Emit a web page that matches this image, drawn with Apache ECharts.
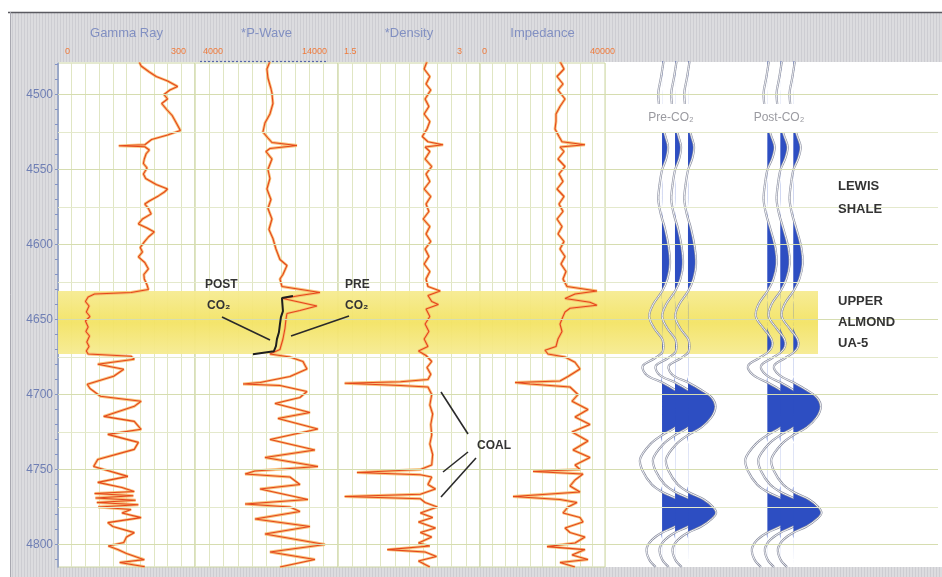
<!DOCTYPE html>
<html><head><meta charset="utf-8">
<script src="https://cdn.jsdelivr.net/npm/echarts@6/dist/echarts.min.js"></script>
<style>html,body{margin:0;padding:0;background:#fff}#c{width:942px;height:577px}</style>
</head><body><div id="c"></div>
<script>
// ---------------- data ----------------
const depthMin = 4479, depthMax = 4815;
const depthLabels = [4500, 4550, 4600, 4650, 4700, 4750, 4800];
const depthTicks = [4480,4490,4500,4510,4520,4530,4540,4550,4560,4570,4580,4590,4600,4610,4620,4630,4640,4650,4660,4670,4680,4690,4700,4710,4720,4730,4740,4750,4760,4770,4780,4790,4800,4810];
const gridDepths = [4500,4525,4550,4575,4600,4625,4650,4675,4700,4725,4750,4775,4800];
const trackNames = ['Gamma Ray', '*P-Wave', '*Density', 'Impedance'];
const trackMin = [0, 4000, 1.5, 0];
const trackMax = [300, 14000, 3, 40000];
const trackMinLabels = ['0', '4000', '1.5', '0'];
const trackMaxLabels = ['300', '14000', '3', '40000'];
const zoneTop = 4631, zoneBase = 4673;

// [depth (ft), value]
const gammaRay = [[4478.5,178],[4481,182],[4485,200],[4488,215],[4491,240],[4494.7,262],[4497,245],[4500,232],[4503,240],[4506,227],[4510,238],[4514,250],[4519.5,260],[4524,268],[4527,240],[4530,205],[4533.5,190],[4534.2,133],[4534.8,190],[4537,200],[4539.5,193],[4543,189],[4546,187],[4549,195],[4553,187],[4556,192],[4560,215],[4563,240],[4565,233],[4567.6,220],[4571,200],[4573,190],[4576,198],[4579.6,204],[4583,185],[4586.3,176],[4589,195],[4591.6,211],[4595,198],[4598.3,189],[4602,180],[4605,185],[4608.3,176],[4612,190],[4616.3,198],[4620,188],[4623,189],[4627,195],[4630,198],[4632,160],[4633,80],[4635,66],[4638,60],[4641,68],[4645,62],[4648,70],[4651,60],[4655,66],[4658,61],[4661,69],[4665,63],[4668,68],[4671,62],[4673,66],[4674.5,160],[4676.5,167],[4679.8,87],[4683.2,144],[4687.8,122],[4693.2,64],[4696,70],[4701.2,93],[4704.5,182],[4707.9,167],[4714.6,100],[4717.9,167],[4723.2,182],[4726.6,109],[4731.9,176],[4736.6,167],[4743.3,87],[4748,78],[4754.6,153],[4758.6,87],[4762,140],[4764.7,167],[4766,80],[4767.5,165],[4769,82],[4770.5,170],[4772,85],[4773.5,176],[4775,88],[4776.7,160],[4779,140],[4782.1,182],[4785.4,109],[4788,120],[4792.1,167],[4795,150],[4798.7,144],[4801,110],[4803.4,131],[4806,150],[4810.1,189],[4812,135],[4814.8,190]];

const pWave = [[4478,9240],[4483,9030],[4489,9100],[4496,9310],[4499,9380],[4506,9450],[4513,9240],[4519,8890],[4525,8750],[4529,9100],[4532,9380],[4534,11130],[4536,9240],[4538,8960],[4543,9380],[4550,9100],[4556,9240],[4563,9030],[4570,9310],[4576,9100],[4583,9380],[4590,9170],[4596,9450],[4603,9660],[4610,9940],[4614,10430],[4620,10150],[4623,9940],[4628,10080],[4632,12740],[4634,11340],[4636,10150],[4641,12530],[4644,11340],[4646,10430],[4650,10360],[4656,10290],[4663,10150],[4670,9940],[4673,9240],[4675,10640],[4678,11550],[4683,11830],[4688,10640],[4692,8540],[4693,7360],[4694,9940],[4698,11830],[4702,11340],[4706,9590],[4712,12040],[4716,9800],[4723,12600],[4730,9240],[4737,12390],[4742,8890],[4748,12600],[4751,8190],[4753,7500],[4755,10640],[4760,11340],[4763,8540],[4770,11900],[4773,7500],[4775,10640],[4778,11340],[4783,8190],[4788,12040],[4793,8890],[4800,13090],[4805,9240],[4810,12390],[4815,9940]];

const pWavePost = [[4634.4,10850],[4635.7,10080],[4644.4,10150],[4648.4,10010],[4653.1,9940],[4658.5,9870],[4663.1,9730],[4667.8,9660],[4671.1,9520],[4673.1,8050]];

const density = [[4478,2.44],[4483,2.41],[4488,2.47],[4493,2.43],[4497,2.48],[4503,2.42],[4508,2.46],[4513,2.41],[4518,2.47],[4523,2.44],[4528,2.39],[4531.5,2.45],[4533.5,2.61],[4535,2.42],[4538,2.47],[4543,2.42],[4548,2.49],[4553,2.43],[4558,2.47],[4563,2.41],[4568,2.48],[4573,2.43],[4578,2.46],[4583,2.40],[4588,2.47],[4593,2.43],[4598,2.48],[4603,2.42],[4608,2.46],[4613,2.41],[4618,2.47],[4623,2.43],[4628,2.45],[4631,2.58],[4634,2.45],[4638,2.49],[4640,2.56],[4643,2.43],[4648,2.47],[4653,2.42],[4658,2.46],[4663,2.41],[4668,2.45],[4671,2.35],[4674,2.43],[4678,2.49],[4682,2.44],[4686.5,2.48],[4690,2.45],[4691.5,2.16],[4692.5,1.57],[4694,2.16],[4695,2.45],[4700,2.49],[4707,2.47],[4713,2.50],[4720,2.48],[4727,2.49],[4733,2.47],[4740,2.50],[4747,2.49],[4750,2.37],[4752,1.70],[4753.5,2.37],[4755,2.49],[4760,2.45],[4763,2.53],[4766.5,2.37],[4768,1.57],[4769.5,2.37],[4772,2.42],[4775,2.55],[4779,2.37],[4782,2.50],[4785,2.35],[4789,2.53],[4792,2.37],[4795,2.49],[4799,2.35],[4801,2.47],[4803.4,2.02],[4805,2.42],[4808,2.54],[4811,2.35],[4815,2.47]];

const impedance = [[4478,25600],[4483,26880],[4488,24640],[4493,26560],[4497,24960],[4503,27200],[4508,25600],[4513,24320],[4518,24320],[4523,24000],[4528,25280],[4531.5,26240],[4533.5,33600],[4535,25600],[4538,26880],[4543,24960],[4548,27200],[4553,25280],[4558,26560],[4563,24640],[4568,26880],[4573,25280],[4578,26560],[4583,24640],[4588,26240],[4593,24960],[4598,26880],[4603,25600],[4608,27200],[4613,25920],[4618,27520],[4623,26560],[4628,27840],[4631,37440],[4633,30400],[4636,27200],[4638.5,35200],[4640.5,37440],[4642.5,28800],[4645,27200],[4648,26560],[4653,25600],[4658,26240],[4663,24960],[4668,24320],[4670.5,20800],[4673,21760],[4675,27200],[4678.5,30400],[4683,32000],[4688,28160],[4691,25600],[4692,11200],[4693,16000],[4695,28800],[4700,31360],[4704.5,29440],[4710,34560],[4715,30400],[4720,35200],[4725,29440],[4731,34560],[4737,29760],[4742,35200],[4747,30400],[4750,32000],[4751.3,16960],[4753,32960],[4757,30400],[4761,28800],[4765,32000],[4768,10560],[4770,25600],[4772,31040],[4775,28160],[4779,26560],[4782,32000],[4785,32960],[4789,27200],[4792,28800],[4795,33600],[4799,30400],[4801.4,21440],[4803.4,33600],[4807,29440],[4810,34560],[4812,25600],[4815,30400]];

// synthetic seismic traces (amplitude in trace-spacing units)
const seisDepth = [4478,4489,4499,4510,4520,4528,4535,4543,4550,4560,4570,4580,4589,4602,4613,4623,4631,4640,4648,4656,4663,4668,4672,4676,4681,4687,4692,4697,4702,4708,4715,4722,4727,4733,4743,4751,4760,4765,4770,4775,4779,4783,4788,4792,4797,4803,4810,4815];
const preAmp  = [0.1,-0.1,-0.3,-0.2,0,0.25,0.45,0.3,0,-0.2,-0.3,-0.1,0.2,0.5,0.6,0.4,0,-0.7,-1.0,-0.6,0,0.1,0,-0.6,-1.5,-1.2,0,1.0,1.8,2.1,1.8,1.0,0,-0.9,-1.7,-1.5,-0.8,0,1.2,1.9,2.15,1.8,1.0,0,-0.8,-1.2,-1.0,-0.5];
const postAmp = [0.1,-0.1,-0.3,-0.2,0,0.3,0.55,0.35,0,-0.2,-0.3,-0.1,0.2,0.6,0.7,0.45,0,-0.7,-0.9,-0.3,0.3,0.35,0,-0.7,-1.5,-1.1,0,1.0,1.8,2.1,1.8,1.0,0,-0.9,-1.7,-1.5,-0.8,0,1.2,1.9,2.15,1.8,1.0,0,-0.8,-1.2,-1.0,-0.5];
const traceBase = [4.4, 5.4, 6.4, 12.5, 13.5, 14.5];
const traceSet  = [0, 0, 0, 1, 1, 1]; // 0 = pre-CO2, 1 = post-CO2

// ---------------- layout ----------------
const plotTop = 63, plotBottom = 567, plotLeft = 58, plotRight = 938;
const trackL = [58, 195, 338, 480];
const trackR = [195, 338, 480, 605];
const seisL = 605, seisR = 938;
const bandRight = 818;
const scaleLabelX = [[65, 186], [203, 327], [344, 462], [482, 615]];
const FONT = 'Liberation Sans, Arial, DejaVu Sans, sans-serif';

const chart = echarts.init(document.getElementById('c'), null, {renderer: 'canvas'});

// stripe pattern for the grey frame
const pat = document.createElement('canvas');
pat.width = 3; pat.height = 4;
const pctx = pat.getContext('2d');
pctx.fillStyle = '#dcdcdf'; pctx.fillRect(0, 0, 3, 4);
pctx.fillStyle = '#cdcdd2'; pctx.fillRect(0, 0, 1, 4);

const grids = [], xAxes = [], yAxes = [], series = [];
const H = plotBottom - plotTop;

// background grid (index 0)
grids.push({left: plotLeft, top: plotTop, width: plotRight - plotLeft, height: H, show: false});
xAxes.push({gridIndex: 0, type: 'value', min: 0, max: plotRight - plotLeft, show: false});
yAxes.push({gridIndex: 0, type: 'value', inverse: true, min: depthMin, max: depthMax, position: 'left',
  axisLine: {show: true, lineStyle: {color: '#8393c6', width: 1.5}},
  axisTick: {show: true, customValues: depthTicks, length: 3, lineStyle: {color: '#8393c6'}},
  axisLabel: {show: true, customValues: depthLabels, formatter: v => String(v), color: '#6f7fb4', fontSize: 12, fontFamily: FONT, margin: 5},
  splitLine: {show: false}});

series.push({type: 'line', xAxisIndex: 0, yAxisIndex: 0, data: [], z: -3, silent: true,
  markArea: {silent: true, itemStyle: {color: {type: 'linear', x: 0, y: 0, x2: 0, y2: 1, colorStops: [
    {offset: 0, color: 'rgba(246,235,145,0.95)'}, {offset: 0.5, color: 'rgba(243,227,100,0.95)'}, {offset: 1, color: 'rgba(246,235,145,0.95)'}]}},
    data: [[{xAxis: 0, yAxis: zoneTop}, {xAxis: bandRight - plotLeft, yAxis: zoneBase}]]}});
series.push({type: 'line', xAxisIndex: 0, yAxisIndex: 0, data: [], z: -2, silent: true,
  markLine: {silent: true, symbol: ['none', 'none'], label: {show: false}, animation: false,
    data: gridDepths.map(d => ({yAxis: d, lineStyle: {type: 'solid', width: 1, color: d % 50 === 0 ? '#d6ddb0' : '#e4e9cc'}}))}});

// log tracks
const curves = [gammaRay, pWave, density, impedance];
for (let i = 0; i < 4; i++) {
  const gi = i + 1;
  grids.push({left: trackL[i], top: plotTop, width: trackR[i] - trackL[i], height: H, show: true,
    borderColor: '#cbd4a2', borderWidth: 1, backgroundColor: 'transparent'});
  xAxes.push({gridIndex: gi, type: 'value', min: trackMin[i], max: trackMax[i], interval: (trackMax[i] - trackMin[i]) / 10,
    axisLine: {show: false}, axisTick: {show: false}, axisLabel: {show: false},
    splitLine: {show: true, lineStyle: {color: '#e0e6c3', width: 1}}});
  yAxes.push({gridIndex: gi, type: 'value', inverse: true, min: depthMin, max: depthMax, show: false, splitLine: {show: false}});
  const d = curves[i].map(p => [p[1], p[0]]);
  series.push({type: 'line', xAxisIndex: gi, yAxisIndex: gi, data: d, showSymbol: false, silent: true,
    lineStyle: {color: '#f7b866', width: 2.8, opacity: 0.85}, z: 3});
  series.push({type: 'line', xAxisIndex: gi, yAxisIndex: gi, data: d, showSymbol: false, silent: true,
    lineStyle: {color: '#e5461c', width: 1.1}, z: 4});
}
series.push({type: 'line', xAxisIndex: 2, yAxisIndex: 2, data: pWavePost.map(p => [p[1], p[0]]), showSymbol: false, silent: true,
  lineStyle: {color: '#1e1e1e', width: 2}, z: 5});

// seismic grid (index 5)
grids.push({left: seisL, top: plotTop, width: seisR - seisL, height: H, show: false});
xAxes.push({gridIndex: 5, type: 'value', min: 0, max: (seisR - seisL) / 13, show: false});
yAxes.push({gridIndex: 5, type: 'value', inverse: true, min: depthMin, max: depthMax, show: false});
series.push({type: 'custom', xAxisIndex: 5, yAxisIndex: 5, silent: true, z: 3,
  data: traceBase.map((b, i) => [b, traceSet[i]]),
  renderItem: function (params, api) {
    const base = api.value(0);
    const amp = api.value(1) === 0 ? preAmp : postAmp;
    const line = [], fill = [];
    fill.push(api.coord([base, seisDepth[0]]));
    for (let k = 0; k < seisDepth.length; k++) {
      line.push(api.coord([base + amp[k], seisDepth[k]]));
      fill.push(api.coord([base + Math.max(0, amp[k]), seisDepth[k]]));
    }
    fill.push(api.coord([base, seisDepth[seisDepth.length - 1]]));
    return {type: 'group', children: [
      {type: 'polygon', shape: {points: fill, smooth: 0.35}, style: {fill: '#2d4ec2'}},
      {type: 'polyline', shape: {points: line, smooth: 0.35}, style: {stroke: '#8c90a2', lineWidth: 2.2, fill: null}},
      {type: 'polyline', shape: {points: line, smooth: 0.35}, style: {stroke: '#ffffff', lineWidth: 0.9, fill: null}}
    ]};
  }});

// ---------------- frame & annotations ----------------
const graphics = [
  {type: 'rect', shape: {x: 10, y: 13, width: 932, height: 49}, style: {fill: {image: pat, repeat: 'repeat'}}, z: -10, silent: true},
  {type: 'rect', shape: {x: 10, y: 62, width: 47, height: 515}, style: {fill: {image: pat, repeat: 'repeat'}}, z: -10, silent: true},
  {type: 'rect', shape: {x: 57, y: 567, width: 885, height: 10}, style: {fill: {image: pat, repeat: 'repeat'}}, z: -10, silent: true},
  {type: 'line', shape: {x1: 8, y1: 12.5, x2: 942, y2: 12.5}, style: {stroke: '#5a5a60', lineWidth: 1.5}, z: 10, silent: true},
  {type: 'line', shape: {x1: 10.5, y1: 12, x2: 10.5, y2: 577}, style: {stroke: '#a8a8b0', lineWidth: 1}, z: 10, silent: true},
  {type: 'line', shape: {x1: 200, y1: 61.5, x2: 328, y2: 61.5}, style: {stroke: '#5566aa', lineWidth: 1.2, lineDash: [2, 2]}, z: 10, silent: true}
];
for (let i = 0; i < 4; i++) {
  graphics.push({type: 'text', x: (trackL[i] + trackR[i]) / 2, y: 33, silent: true, z: 10,
    style: {text: trackNames[i], fill: '#8290c2', font: '13px ' + FONT, textAlign: 'center', textVerticalAlign: 'middle'}});
  graphics.push({type: 'text', x: scaleLabelX[i][0], y: 52, silent: true, z: 10,
    style: {text: trackMinLabels[i], fill: '#ef7b3c', font: '9px ' + FONT, textAlign: 'left', textVerticalAlign: 'middle'}});
  graphics.push({type: 'text', x: scaleLabelX[i][1], y: 52, silent: true, z: 10,
    style: {text: trackMaxLabels[i], fill: '#ef7b3c', font: '9px ' + FONT, textAlign: 'right', textVerticalAlign: 'middle'}});
}
const bold = 'bold 13px ' + FONT, bold12 = 'bold 12px ' + FONT;
function txt(x, y, s, font, fill, extra) {
  graphics.push(Object.assign({type: 'text', x: x, y: y, silent: true, z: 50,
    style: Object.assign({text: s, fill: fill || '#333', font: font, textAlign: 'left', textVerticalAlign: 'middle'}, extra || {})}));
}
function seg(x1, y1, x2, y2) {
  graphics.push({type: 'line', shape: {x1, y1, x2, y2}, style: {stroke: '#2a2a2a', lineWidth: 1.6}, z: 50, silent: true});
}
txt(838, 186, 'LEWIS', bold); txt(838, 209, 'SHALE', bold);
txt(838, 301, 'UPPER', bold); txt(838, 322, 'ALMOND', bold); txt(838, 343, 'UA-5', bold);
txt(205, 285, 'POST', bold12); txt(207, 306, 'CO₂', bold12);
txt(345, 285, 'PRE', bold12); txt(345, 306, 'CO₂', bold12);
txt(477, 446, 'COAL', bold12);
seg(222, 317, 270, 340); seg(349, 316, 291, 336);
seg(441, 392, 468, 434); seg(468, 452, 443, 472); seg(476, 458, 441, 497);
txt(671, 118, 'Pre-CO₂', '12px ' + FONT, '#9a9aa0', {textAlign: 'center', backgroundColor: '#fff', padding: [8, 3]});
txt(779, 118, 'Post-CO₂', '12px ' + FONT, '#9a9aa0', {textAlign: 'center', backgroundColor: '#fff', padding: [8, 3]});

chart.setOption({
  animation: false,
  backgroundColor: '#ffffff',
  grid: grids, xAxis: xAxes, yAxis: yAxes, series: series, graphic: graphics
});
</script></body></html>
